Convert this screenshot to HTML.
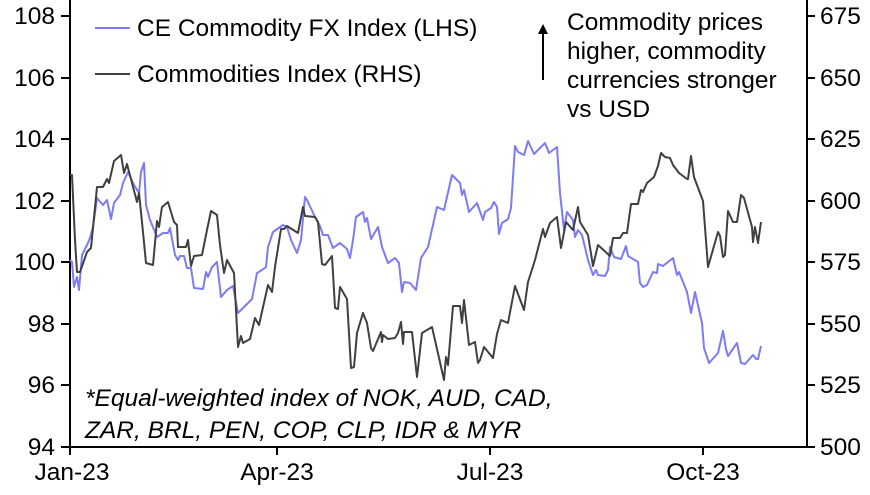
<!DOCTYPE html>
<html><head><style>
body{margin:0;background:#fff}
svg text{font-family:"Liberation Sans",sans-serif;fill:#000}
</style></head><body>
<svg width="870" height="490" viewBox="0 0 870 490" xmlns="http://www.w3.org/2000/svg">
<g stroke="#000" stroke-width="2" fill="none">
<line x1="70" y1="0" x2="70" y2="448"/>
<line x1="807" y1="0" x2="807" y2="448"/>
<line x1="69" y1="447" x2="808" y2="447"/>
<line x1="61" y1="16" x2="70" y2="16"/><line x1="61" y1="78" x2="70" y2="78"/><line x1="61" y1="139" x2="70" y2="139"/><line x1="61" y1="201" x2="70" y2="201"/><line x1="61" y1="262" x2="70" y2="262"/><line x1="61" y1="324" x2="70" y2="324"/><line x1="61" y1="385" x2="70" y2="385"/><line x1="61" y1="447" x2="70" y2="447"/>
<line x1="807" y1="16" x2="815" y2="16"/><line x1="807" y1="78" x2="815" y2="78"/><line x1="807" y1="139" x2="815" y2="139"/><line x1="807" y1="201" x2="815" y2="201"/><line x1="807" y1="262" x2="815" y2="262"/><line x1="807" y1="324" x2="815" y2="324"/><line x1="807" y1="385" x2="815" y2="385"/><line x1="807" y1="447" x2="815" y2="447"/>
<line x1="70" y1="447" x2="70" y2="455"/><line x1="277" y1="447" x2="277" y2="455"/><line x1="490" y1="447" x2="490" y2="455"/><line x1="703" y1="447" x2="703" y2="455"/>
</g>
<g font-size="24.5" text-anchor="end">
<text x="55" y="24">108</text><text x="55" y="86">106</text><text x="55" y="147">104</text><text x="55" y="209">102</text><text x="55" y="270">100</text><text x="55" y="332">98</text><text x="55" y="393">96</text><text x="55" y="455">94</text>
</g>
<g font-size="24.5">
<text x="820" y="24">675</text><text x="820" y="86">650</text><text x="820" y="147">625</text><text x="820" y="209">600</text><text x="820" y="270">575</text><text x="820" y="332">550</text><text x="820" y="393">525</text><text x="820" y="455">500</text>
</g>
<g font-size="24.5" text-anchor="middle">
<text x="72" y="480">Jan-23</text><text x="277" y="480">Apr-23</text><text x="490" y="480">Jul-23</text><text x="703" y="480">Oct-23</text>
</g>
<polyline fill="none" stroke="#7b7bf7" stroke-width="2" stroke-linejoin="round" points="70,260 72,262 74,287 77,277 79,290 82,255 87,245 90,238 93,227 97,198 103,205 107,200 111,219 114,203 120,195 123,183 128,172 134,185 139,193 141,172 144,163 146,205 150,220 157,237 163,233 168,233 170,228 175,255 178,260 180,256 184,256 187,268 191,268 194,288 203,289 206,272 208,277 212,267 217,262 221,297 227,290 233,286 238,313 252,299 257,273 262,270 266,267 268,247 273,232 283,225 287,227 291,240 297,253 301,240 305,197 307,200 315,217 320,226 323,235 328,235 333,248 340,243 347,249 350,258 353,240 356,217 363,212 365,222 367,218 371,239 378,227 382,247 388,263 395,258 399,263 402,292 404,282 410,283 416,290 421,258 428,247 437,207 444,210 452,175 460,183 462,195 464,190 469,212 477,203 483,220 485,212 491,208 494,202 497,207 499,234 502,223 508,219 511,208 515,146 518,152 524,155 528,141 534,154 545,143 549,153 557,147 560,193 564,230 567,212 573,220 575,237 578,230 582,235 588,260 593,275 596,270 598,275 605,276 608,270 610,247 614,257 621,259 626,246 628,256 638,262 640,283 643,287 647,285 653,272 657,273 658,264 663,266 673,258 677,275 679,272 687,292 691,313 695,292 702,323 704,348 709,363 718,353 723,331 726,349 728,356 737,343 741,363 745,364 753,355 756,359 758,359 761,346"/>
<polyline fill="none" stroke="#404040" stroke-width="2" stroke-linejoin="round" points="70,175 72,175 75,240 77,272 80,272 87,252 91,248 97,187 103,187 107,179 109,183 114,161 121,155 124,173 127,164 137,202 139,193 142,222 146,263 153,265 157,221 159,227 162,207 168,202 174,222 177,225 178,247 186,247 188,240 191,266 194,256 202,255 207,230 211,211 217,215 220,245 224,273 227,260 234,273 238,347 241,336 243,343 250,339 255,318 259,325 268,285 272,292 275,267 281,229 284,229 287,226 298,233 303,207 305,216 315,217 318,222 322,264 325,265 332,256 335,308 338,309 340,287 347,299 351,368 354,367 357,333 363,313 367,323 371,348 373,351 381,332 382,342 383,335 388,339 395,338 398,333 401,322 403,344 404,332 412,332 417,377 422,333 432,327 444,380 446,357 448,365 453,306 460,306 462,323 464,300 469,345 475,342 478,363 480,360 484,347 493,358 497,334 501,320 508,323 515,286 524,310 528,282 535,260 543,229 545,237 550,223 557,217 561,248 566,222 573,230 578,207 580,222 588,235 593,266 598,245 610,256 613,238 620,238 623,233 627,233 631,204 638,204 641,190 643,192 647,183 654,177 658,166 661,153 665,157 670,158 673,165 679,173 687,179 688,179 691,156 694,177 703,201 708,267 718,232 720,236 723,257 725,255 728,211 733,222 737,222 741,195 744,198 752,227 753,242 755,227 758,243 761,222"/>
<line x1="95" y1="28" x2="130" y2="28" stroke="#7b7bf7" stroke-width="2"/>
<line x1="95" y1="74" x2="130" y2="74" stroke="#404040" stroke-width="2"/>
<g font-size="24.5">
<text x="137" y="36">CE Commodity FX Index (LHS)</text>
<text x="137" y="82">Commodities Index (RHS)</text>
<text x="567" y="30">Commodity prices</text>
<text x="567" y="59">higher, commodity</text>
<text x="567" y="88">currencies stronger</text>
<text x="567" y="117">vs USD</text>
<text x="85" y="406" font-style="italic">*Equal-weighted index of NOK, AUD, CAD,</text>
<text x="85" y="438" font-style="italic">ZAR, BRL, PEN, COP, CLP, IDR &amp; MYR</text>
</g>
<line x1="543" y1="80" x2="543" y2="32" stroke="#000" stroke-width="2"/>
<polygon points="538,34 548,34 543,24" fill="#000"/>
</svg>
</body></html>
